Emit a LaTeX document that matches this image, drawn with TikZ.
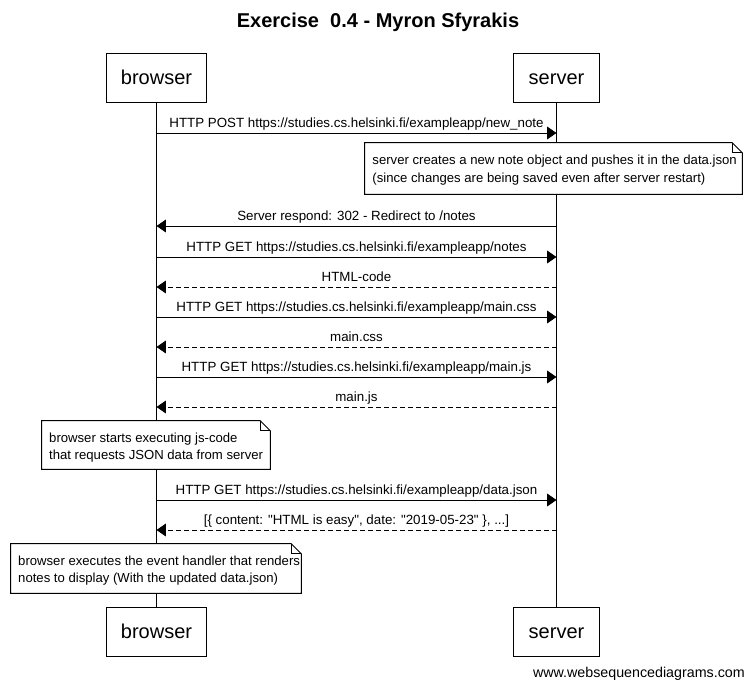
\documentclass[tikz,border=0pt]{standalone}
\usepackage{fontspec}
\setmainfont{Liberation Sans}[Ligatures=TeXOff]
\usetikzlibrary{arrows.meta}
\begin{document}
\begin{tikzpicture}[x=0.75pt,y=-0.75pt,
  every node/.style={font=\fontsize{10pt}{12pt}\selectfont},
  actor/.style={draw, line width=0.75pt, minimum height=36.75pt, inner sep=0pt, fill=white,
    text height=10.2pt, text depth=0pt, font=\fontsize{15pt}{18pt}\selectfont},
  lifeline/.style={line width=0.75pt},
  msg/.style={line width=0.75pt, -{Triangle[length=7pt,width=9.5pt]}},
  reply/.style={msg, dash pattern=on 3.75pt off 2.25pt},
  lbl/.style={anchor=base, inner sep=0pt, yshift=4.1pt},
  notebox/.style={fill=white, inner sep=0pt},
  notetext/.style={anchor=base west, inner sep=0pt, font=\fontsize{9.85pt}{12pt}\selectfont},
  noteline/.style={line width=0.75pt, line join=miter},
  titlestyle/.style={font=\fontsize{15pt}{18pt}\selectfont\bfseries},
  markstyle/.style={font=\fontsize{10.7pt}{12pt}\selectfont, inner sep=0pt}
]
\useasboundingbox (0,0) rectangle (754,689);
\fill[white] (0,0) rectangle (754,689);

\node[titlestyle] (title) at (378,22) {Exercise\ \ 0.4 - Myron Sfyrakis};

% participants
\node[actor, minimum width=75pt] (bt) at (156.5,77.5) {browser};
\node[actor, minimum width=64.5pt] (st) at (556.5,77.5) {server};
\node[actor, minimum width=75pt] (bb) at (156.5,631.5) {browser};
\node[actor, minimum width=64.5pt] (sb) at (556.5,631.5) {server};

\draw[lifeline] (bt) -- (bb);
\draw[lifeline] (st) -- (sb);

% message anchor points
\foreach \i/\y in {1/133,3/226,4/257,5/287,6/317,7/347,8/377,9/407,11/500,12/530}{
  \coordinate (b\i) at (156.5,\y);
  \coordinate (s\i) at (556.5,\y);
}

\draw[msg] (b1) -- node[lbl] {HTTP POST https://studies.cs.helsinki.fi/exampleapp/new\_note} (s1);

% note 1
\node[notebox, minimum width=282.75pt, minimum height=38.25pt] (n1) at (553.5,168.5) {};
\draw[noteline] (n1.south west) -- (n1.north west) -- ([xshift=-7.5pt]n1.north east)
  -- ([yshift=-7.5pt]n1.north east) -- (n1.south east) -- cycle;
\draw[noteline] ([xshift=-7.5pt]n1.north east) |- ([yshift=-7.5pt]n1.north east);
\node[notetext] (n1a) at ([xshift=5.6pt,yshift=-16.5pt]n1.north west)
  {server creates a new note object and pushes it in the data.json};
\node[notetext] (n1b) at ([xshift=5.6pt,yshift=-29.6pt]n1.north west)
  {(since changes are being saved even after server restart)};

\draw[msg] (s3) -- node[lbl] {Server respond: 302 - Redirect to /notes} (b3);
\draw[msg] (b4) -- node[lbl] {HTTP GET https://studies.cs.helsinki.fi/exampleapp/notes} (s4);
\draw[reply] (s5) -- node[lbl] {HTML-code} (b5);
\draw[msg] (b6) -- node[lbl] {HTTP GET https://studies.cs.helsinki.fi/exampleapp/main.css} (s6);
\draw[reply] (s7) -- node[lbl] {main.css} (b7);
\draw[msg] (b8) -- node[lbl] {HTTP GET https://studies.cs.helsinki.fi/exampleapp/main.js} (s8);
\draw[reply] (s9) -- node[lbl] {main.js} (b9);

% note 2
\node[notebox, minimum width=171pt, minimum height=36pt] (n2) at (156,445) {};
\draw[noteline] (n2.south west) -- (n2.north west) -- ([xshift=-7.5pt]n2.north east)
  -- ([yshift=-7.5pt]n2.north east) -- (n2.south east) -- cycle;
\draw[noteline] ([xshift=-7.5pt]n2.north east) |- ([yshift=-7.5pt]n2.north east);
\node[notetext] (n2a) at ([xshift=5.4pt,yshift=-16pt]n2.north west)
  {browser starts executing js-code};
\node[notetext] (n2b) at ([xshift=5.4pt,yshift=-29.1pt]n2.north west)
  {that requests JSON data from server};

\draw[msg] (b11) -- node[lbl] {HTTP GET https://studies.cs.helsinki.fi/exampleapp/data.json} (s11);
\draw[reply] (s12) -- node[lbl] {[\{ content: "HTML is easy", date: "2019-05-23" \}, ...]} (b12);

% note 3
\node[notebox, minimum width=217.5pt, minimum height=36.75pt] (n3) at (156,568.5) {};
\draw[noteline] (n3.south west) -- (n3.north west) -- ([xshift=-7.5pt]n3.north east)
  -- ([yshift=-7.5pt]n3.north east) -- (n3.south east) -- cycle;
\draw[noteline] ([xshift=-7.5pt]n3.north east) |- ([yshift=-7.5pt]n3.north east);
\node[notetext] (n3a) at ([xshift=5.4pt,yshift=-16.3pt]n3.north west)
  {browser executes the event handler that renders};
\node[notetext] (n3b) at ([xshift=5.4pt,yshift=-29.4pt]n3.north west)
  {notes to display (With the updated data.json)};

\node[markstyle, anchor=base east] (wm) at (745,677.7) {www.websequencediagrams.com};
\end{tikzpicture}
\end{document}
